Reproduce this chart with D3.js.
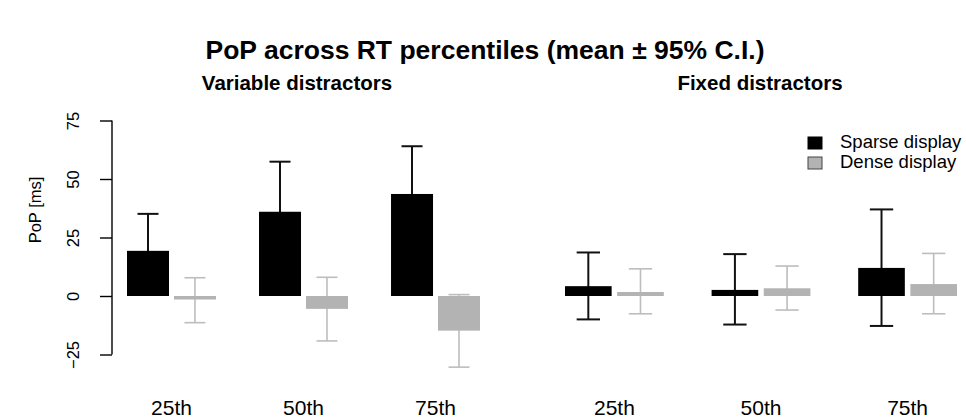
<!DOCTYPE html>
<html>
<head>
<meta charset="utf-8">
<script src="https://cdn.jsdelivr.net/npm/d3@7"></script>
<style>
  body { margin: 0; background: #fff; }
  svg { font-family: "Liberation Sans", Arial, Helvetica, sans-serif; }
</style>
</head>
<body>
<svg id="chart" width="966" height="419"></svg>
<script>
// data --------------------------------------------------------------
const percentiles = ["25th", "50th", "75th"];
const series = ["Sparse display", "Dense display"];
const yTicks = [-25, 0, 25, 50, 75];

// variable distractors: mean, lower CI, upper CI
const varSparse = [19.3, 36.0, 43.6];
const varSparseLo = [3.5, 14.5, 23.2];
const varSparseHi = [35.1, 57.4, 64.0];
const varDense = [-1.5, -5.5, -14.8];
const varDenseLo = [-11.4, -19.2, -30.4];
const varDenseHi = [7.8, 8.0, 0.6];

// fixed distractors
const fixSparse = [4.2, 2.6, 12.0];
const fixSparseLo = [-10.0, -12.2, -12.8];
const fixSparseHi = [18.6, 17.9, 37.0];
const fixDense = [1.7, 3.3, 5.1];
const fixDenseLo = [-7.6, -6.0, -7.6];
const fixDenseHi = [11.6, 12.8, 18.2];

const fills = ["#000000", "#b3b3b3"];
const whiskerCol = ["#111111", "#bdbdbd"];

// ------------------------------------------------------------------
const svg = d3.select("#chart");

const y = d3.scaleLinear().domain([-25, 75]).range([354.5, 120.5]);

svg.append("text")
  .attr("x", 485).attr("y", 59)
  .attr("text-anchor", "middle")
  .attr("font-weight", "bold")
  .attr("font-size", 26.5)
  .text("PoP across RT percentiles (mean \u00b1 95% C.I.)");

function makePanel(title, titleX, r0, r1, means, los, his) {
  const x0 = d3.scaleBand().domain(percentiles).range([r0, r1]).paddingInner(0.326);
  const x1 = d3.scaleBand().domain(series).range([0, x0.bandwidth()]).paddingInner(0.106);
  const g = svg.append("g");

  svg.append("text")
    .attr("x", titleX).attr("y", 90)
    .attr("text-anchor", "middle")
    .attr("font-weight", "bold")
    .attr("font-size", 20.5)
    .text(title);

  const rows = [];
  percentiles.forEach((p, i) => {
    series.forEach((s, j) => {
      rows.push({ p: p, s: s, j: j, v: means[j][i], lo: los[j][i], hi: his[j][i] });
    });
  });

  // whiskers first, bars on top (as in the original)
  const cap = x1.bandwidth() * 0.25;
  const eb = g.selectAll("g.err").data(rows).join("g").attr("class", "err")
    .attr("stroke", d => whiskerCol[d.j])
    .attr("stroke-width", d => d.j === 0 ? 2 : 1.6);
  eb.append("line")
    .attr("x1", d => x0(d.p) + x1(d.s) + x1.bandwidth() / 2)
    .attr("x2", d => x0(d.p) + x1(d.s) + x1.bandwidth() / 2)
    .attr("y1", d => y(d.lo)).attr("y2", d => y(d.hi));
  ["lo", "hi"].forEach(k => {
    eb.append("line")
      .attr("x1", d => x0(d.p) + x1(d.s) + x1.bandwidth() / 2 - cap)
      .attr("x2", d => x0(d.p) + x1(d.s) + x1.bandwidth() / 2 + cap)
      .attr("y1", d => y(d[k])).attr("y2", d => y(d[k]));
  });

  g.selectAll("rect.bar")
    .data(rows)
    .join("rect")
    .attr("class", "bar")
    .attr("x", d => x0(d.p) + x1(d.s))
    .attr("y", d => y(Math.max(0, d.v)))
    .attr("width", x1.bandwidth())
    .attr("height", d => Math.abs(y(d.v) - y(0)))
    .attr("fill", d => fills[d.j]);

  g.selectAll("text.lab")
    .data(percentiles)
    .join("text")
    .attr("class", "lab")
    .attr("x", d => x0(d) + x0.bandwidth() / 2)
    .attr("y", 415)
    .attr("text-anchor", "middle")
    .attr("font-size", 21)
    .text(d => d);
}

makePanel("Variable distractors", 297, 127, 480,
  [varSparse, varDense], [varSparseLo, varDenseLo], [varSparseHi, varDenseHi]);
makePanel("Fixed distractors", 760, 565, 957,
  [fixSparse, fixDense], [fixSparseLo, fixDenseLo], [fixSparseHi, fixDenseHi]);

// y axis
const ax = svg.append("g")
  .attr("transform", "translate(112,0)")
  .call(d3.axisLeft(y).tickValues(yTicks).tickSize(12).tickPadding(0).tickFormat(d3.format("d")));
ax.select(".domain").attr("d", "M0," + y(-25) + "V" + y(75)).attr("stroke-width", 1.4);
ax.selectAll(".tick line").attr("stroke-width", 1.4);
ax.selectAll(".tick text")
  .attr("font-size", 16.5)
  .attr("font-family", null)
  .attr("text-anchor", "middle")
  .attr("dy", null)
  .attr("x", 0).attr("y", 0)
  .attr("transform", "translate(-37,0) rotate(-90)")
  .attr("dominant-baseline", "middle");

svg.append("text")
  .attr("transform", "translate(37,210) rotate(-90)")
  .attr("text-anchor", "middle")
  .attr("dominant-baseline", "middle")
  .attr("font-size", 16.5)
  .text("PoP [ms]");

// legend
const lg = svg.append("g").attr("transform", "translate(808,137)");
series.forEach((s, i) => {
  lg.append("rect")
    .attr("x", 0).attr("y", i * 20)
    .attr("width", 14).attr("height", 12)
    .attr("fill", fills[i])
    .attr("stroke", i === 0 ? "#000" : "#444")
    .attr("stroke-width", 1);
  lg.append("text")
    .attr("x", 32).attr("y", i * 20 + 6)
    .attr("dominant-baseline", "middle")
    .attr("font-size", 18.5)
    .text(s);
});
</script>
</body>
</html>
